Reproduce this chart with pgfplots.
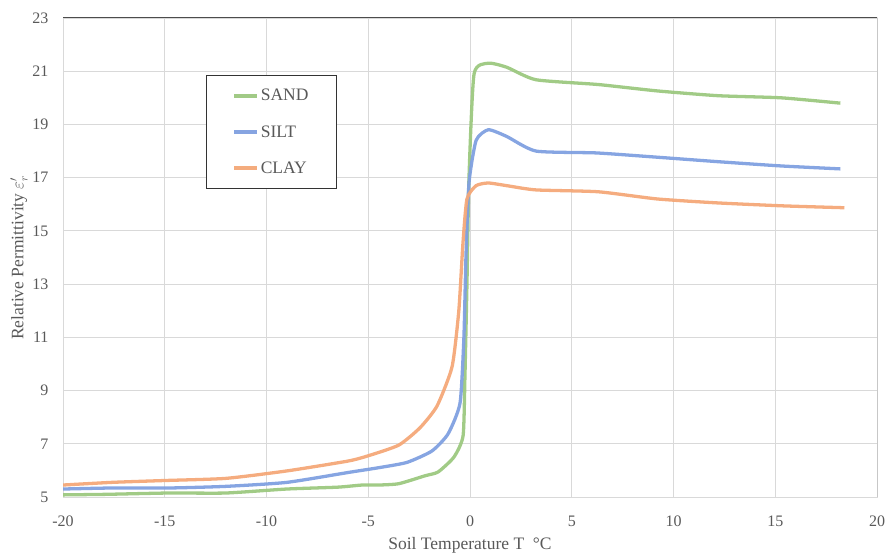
\documentclass[border=0pt]{standalone}
\usepackage{pgfplots}
\pgfplotsset{compat=1.18}
\usepackage{fontspec}
\setmainfont{Liberation Serif}
\definecolor{sandc}{RGB}{156,200,128}
\definecolor{siltc}{RGB}{128,160,224}
\definecolor{clayc}{RGB}{244,168,120}
\definecolor{txt}{RGB}{89,89,89}
\definecolor{gridc}{RGB}{217,217,217}
\begin{document}
\begin{tikzpicture}
\begin{axis}[
  scale only axis, width=814bp, height=479bp,
  xmin=-20, xmax=20, ymin=5, ymax=23,
  xtick={-20,-15,...,20}, ytick={5,7,...,23},
  grid=major, major grid style={gridc, line width=0.9pt},
  axis line style={gridc, line width=0.9pt},
  major tick length=0pt,
  tick label style={font=\fontsize{16bp}{18bp}\selectfont, text=txt},
  /pgf/number format/assume math mode=true,
  xticklabel style={yshift=-15bp},
  yticklabel style={xshift=-11bp},
  xlabel={Soil Temperature T\ \ °C},
  ylabel={Relative Permittivity $\varepsilon_r'$},
  label style={font=\fontsize{17.5bp}{19bp}\selectfont, text=txt},
  xlabel style={yshift=-4bp},
  ylabel style={yshift=-2bp},
  legend style={at={(axis cs:-12.97,20.86)}, anchor=north west, draw=black!80, line width=0.9pt,
    font=\fontsize{17.5bp}{19bp}\selectfont, text=txt, inner xsep=26bp, inner ysep=12bp,
    row sep=19bp, cells={anchor=west}},
  legend image code/.code={\draw[#1] (0bp,0bp) -- (23bp,0bp);},
  every axis plot/.append style={line width=3.3pt, smooth, tension=0.35, no marks, opacity=0.95},
]
\addplot[sandc] coordinates {
(-20,5.08) (-17.9,5.1) (-14.8,5.15) (-12,5.15) (-9,5.3) (-6.5,5.37) (-5.3,5.45) (-4.5,5.45) (-3.5,5.5) (-2.2,5.8) (-1.57,5.94) (-0.79,6.5) (-0.34,7.3) (-0.25,9.5) (-0.15,13) (-0.05,17) (0.2,20.9) (0.9,21.3) (1.8,21.15) (3.24,20.68) (6.3,20.5) (9.2,20.26) (12.2,20.08) (15.3,20.0) (18.2,19.8)
};
\addlegendentry{SAND}
\addplot[siltc] coordinates {
(-20,5.3) (-17.5,5.34) (-14.7,5.34) (-12,5.4) (-9,5.55) (-6,5.92) (-4.5,6.1) (-3.1,6.3) (-1.87,6.73) (-1.08,7.37) (-0.49,8.53) (-0.3,11) (-0.2,14) (-0.05,16.8) (0.3,18.4) (0.9,18.8) (1.8,18.55) (3.24,18.0) (6.2,17.93) (9.0,17.78) (12.2,17.6) (15.3,17.44) (18.2,17.33)
};
\addlegendentry{SILT}
\addplot[clayc] coordinates {
(-20,5.45) (-17.6,5.55) (-15,5.62) (-12,5.7) (-9,5.98) (-6,6.35) (-5,6.55) (-3.5,6.95) (-2.46,7.6) (-1.62,8.42) (-0.88,9.9) (-0.55,12) (-0.35,14.5) (-0.15,16.2) (0.3,16.7) (0.9,16.8) (1.8,16.7) (3.24,16.54) (6.3,16.47) (9.2,16.2) (12.2,16.05) (15.4,15.94) (18.4,15.87)
};
\addlegendentry{CLAY}
\draw[black!70, line width=1pt] (rel axis cs:0,1) -- (rel axis cs:1,1) -- (rel axis cs:1,0);
\end{axis}
\pgfresetboundingbox
\path ([xshift=-63bp,yshift=-58bp]current axis.south west) rectangle ([xshift=9bp,yshift=18bp]current axis.north east);
\end{tikzpicture}
\end{document}
